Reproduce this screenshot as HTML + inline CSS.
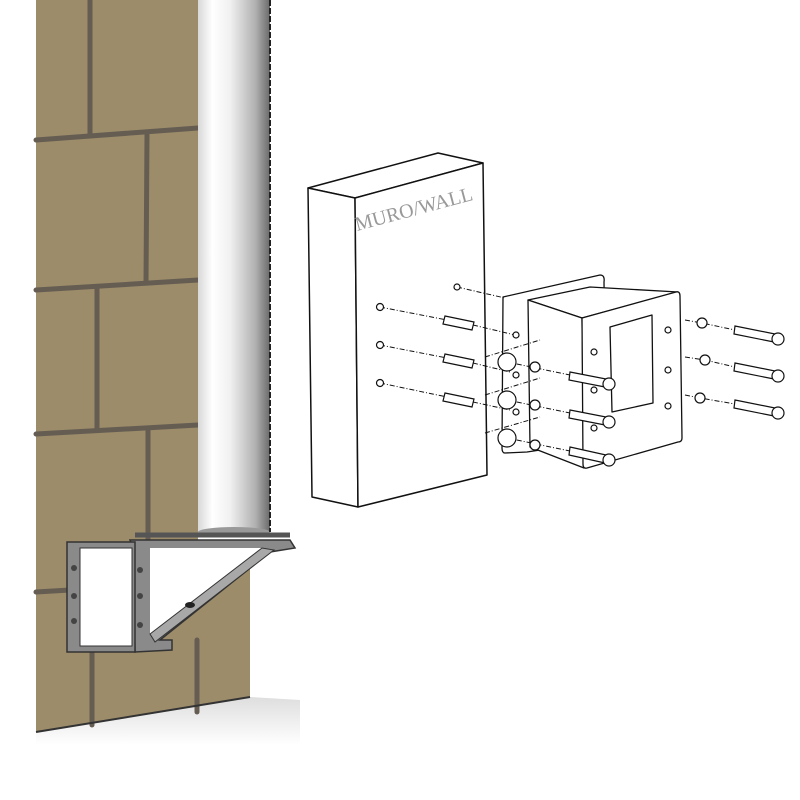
<!DOCTYPE html>
<html><head><meta charset="utf-8"><style>html,body{margin:0;padding:0;background:#fff}svg{display:block}</style></head>
<body>
<svg width="800" height="800" viewBox="0 0 800 800" xmlns="http://www.w3.org/2000/svg">
<defs>
<linearGradient id="pole" x1="0" x2="1" y1="0" y2="0">
<stop offset="0" stop-color="#d8d8d8"/><stop offset="0.2" stop-color="#ffffff"/><stop offset="0.45" stop-color="#f0f0f0"/><stop offset="0.8" stop-color="#b0b0b0"/><stop offset="1" stop-color="#6a6a6a"/>
</linearGradient>
<linearGradient id="sh" x1="0" x2="0" y1="0" y2="1"><stop offset="0" stop-color="#c8c8c8"/><stop offset="1" stop-color="#fff"/></linearGradient>
</defs>
<path d="M36 0 L198 0 L198 560 L250 565 L250 697 L36 732 Z" fill="#9c8c6a"/>
<path d="M36 732 L250 697 L300 700 L300 745 L36 745 Z" fill="url(#sh)" opacity="0.6"/>
<g stroke="#655d52" stroke-width="5" fill="none" stroke-linecap="round">
<path d="M36 140 L198 128"/><path d="M36 290 L198 280"/><path d="M36 434 L198 425"/><path d="M36 592 L70 590"/>
<path d="M90 0 L90 135"/><path d="M147 135 L146 283"/><path d="M97 288 L97 430"/><path d="M148 430 L148 545"/>
<path d="M92 652 L92 725"/><path d="M197 640 L197 712"/>
</g>
<path d="M36 732 L250 697" stroke="#333" stroke-width="2"/>
<rect x="198" y="0" width="72" height="532" fill="url(#pole)"/>
<ellipse cx="234" cy="532" rx="36" ry="5" fill="#999"/>
<path d="M270 0 L270 532" stroke="#222" stroke-width="2" stroke-dasharray="6 2"/>
<path d="M130 540 L290 540 L295 548 L270 552 L160 640 L172 640 L172 650 L135 652 L133 548 Z" fill="#8a8a8a" stroke="#333" stroke-width="1.5"/>
<path d="M150 548 L262 548 L150 634 Z" fill="#fff"/>
<path d="M150 634 L262 548 L274 550 L155 642 Z" fill="#a8a8a8" stroke="#333"/>
<rect x="67" y="542" width="68" height="110" fill="#8a8a8a" stroke="#333" stroke-width="1.5"/>
<rect x="80" y="548" width="52" height="98" fill="#fff" stroke="#333"/>
<path d="M135 535 L290 535" stroke="#555" stroke-width="5"/>
<ellipse cx="190" cy="605" rx="5" ry="3" fill="#222"/>
<g fill="#444"><circle cx="74" cy="568" r="3"/><circle cx="74" cy="596" r="3"/><circle cx="74" cy="621" r="3"/><circle cx="140" cy="570" r="3"/><circle cx="140" cy="596" r="3"/><circle cx="140" cy="625" r="3"/></g>

<g fill="#fff" stroke="#111" stroke-width="1.5" stroke-linejoin="round">
<path d="M308 188 L438 153 L483 163 L355 198 Z"/>
<path d="M308 188 L355 198 L358 507 L312 497 Z"/>
<path d="M355 198 L483 163 L487 475 L358 507 Z"/>
</g>
<text x="0" y="0" transform="translate(357,231) rotate(-15)" font-family="Liberation Serif, serif" font-size="20" fill="#999">MURO/WALL</text>
<g fill="#fff" stroke="#111" stroke-width="1.3" stroke-linejoin="round">
<path d="M503 297 L600 275 Q605 275 604 282 L606 440 L527 452 L505 453 Q502 453 502 448 Z"/>
<path d="M528 300 L590 287 L678 292 L582 318 Z"/>
<path d="M528 300 L582 318 L584 468 L530 447 Z"/>
<path d="M582 318 L676 292 Q680 291 680 296 L682 438 Q682 442 678 442 L587 468 Q583 469 583 464 Z"/>
<path d="M610 327 L652 315 L653 403 L612 412 Z"/>
</g>
<g stroke="#111" stroke-width="1" stroke-dasharray="5 2 1 2" fill="none">
<path d="M457 287 L505 298"/><path d="M380 307 L447 320"/><path d="M473 325 L515 335"/>
<path d="M380 345 L447 358"/><path d="M473 363 L510 372"/><path d="M380 383 L447 397"/><path d="M473 402 L510 410"/>
<path d="M507 362 L570 375"/><path d="M507 400 L570 413"/><path d="M507 438 L570 451"/>
<path d="M685 320 L702 323 L735 330"/><path d="M685 357 L705 360 L735 367"/><path d="M685 395 L700 398 L735 404"/>
<path d="M485 357 L540 340"/><path d="M485 395 L540 378"/><path d="M485 433 L540 417"/>
</g>
<g fill="#fff" stroke="#111" stroke-width="1.2">
<circle cx="457" cy="287" r="3"/><circle cx="380" cy="307" r="3.5"/><circle cx="380" cy="345" r="3.5"/><circle cx="380" cy="383" r="3.5"/>
<path d="M445 316 L474 322 L472 330 L443 324 Z"/><path d="M445 354 L474 360 L472 368 L443 362 Z"/><path d="M445 393 L474 399 L472 407 L443 401 Z"/>
<circle cx="507" cy="362" r="9"/><circle cx="507" cy="400" r="9"/><circle cx="507" cy="438" r="9"/>
<circle cx="535" cy="367" r="5"/><circle cx="535" cy="405" r="5"/><circle cx="535" cy="445" r="5"/>
<circle cx="516" cy="335" r="3"/><circle cx="516" cy="375" r="3"/><circle cx="516" cy="412" r="3"/>
<path d="M570 372 L606 379 L605 387 L569 380 Z"/><circle cx="609" cy="384" r="6"/>
<path d="M570 410 L606 417 L605 425 L569 418 Z"/><circle cx="609" cy="422" r="6"/>
<path d="M570 447 L606 455 L605 463 L569 455 Z"/><circle cx="609" cy="460" r="6"/>
<circle cx="702" cy="323" r="5"/><circle cx="705" cy="360" r="5"/><circle cx="700" cy="398" r="5"/>
<path d="M735 326 L775 334 L774 342 L734 334 Z"/><circle cx="778" cy="339" r="6"/>
<path d="M735 363 L775 371 L774 379 L734 371 Z"/><circle cx="778" cy="376" r="6"/>
<path d="M735 400 L775 408 L774 416 L734 408 Z"/><circle cx="778" cy="413" r="6"/>
<circle cx="594" cy="352" r="3"/><circle cx="594" cy="390" r="3"/><circle cx="594" cy="428" r="3"/>
<circle cx="668" cy="330" r="3"/><circle cx="668" cy="370" r="3"/><circle cx="668" cy="406" r="3"/>
</g>
</svg>
</body></html>
